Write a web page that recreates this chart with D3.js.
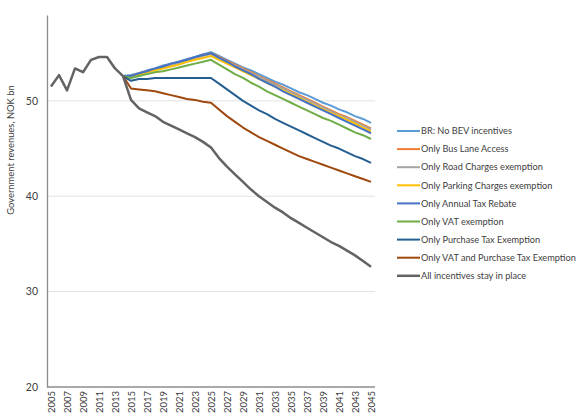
<!DOCTYPE html>
<html>
<head>
<meta charset="utf-8">
<script src="https://cdn.jsdelivr.net/npm/d3@7"></script>
<style>
  body { margin: 0; background: #fff; }
  svg text { font-family: Lato, "Open Sans", sans-serif; fill: #404040; }
</style>
</head>
<body>
<div id="chart"></div>
<script>
// years and values
var years = d3.range(2005, 2046);
var yTicks = [20, 30, 40, 50];
var seriesNames = [
  "BR: No BEV incentives",
  "Only Bus Lane Access",
  "Only Road Charges exemption",
  "Only Parking Charges exemption",
  "Only Annual Tax Rebate",
  "Only VAT exemption",
  "Only Purchase Tax Exemption",
  "Only VAT and Purchase Tax Exemption",
  "All incentives stay in place"
];
var seriesColors = ["#5B9BD5", "#ED7D31", "#A5A5A5", "#FFC000", "#4472C4", "#70AD47", "#255E91", "#9E480E", "#636363"];

// history 2005-2014 (shared by all)
var pastValues = [51.5, 52.7, 51.1, 53.4, 53.0, 54.3, 54.6, 54.6, 53.4, 52.6];

// projections 2014-2045
var brNoIncentives = [52.6, 52.7, 52.9, 53.2, 53.4, 53.7, 53.9, 54.1, 54.4, 54.6, 54.9, 55.1,
  54.7, 54.3, 53.9, 53.5, 53.2, 52.8, 52.4, 52.0, 51.7, 51.3, 50.9, 50.6, 50.2, 49.8, 49.5, 49.1, 48.8, 48.4, 48.1, 47.7];
var busLane = [52.6, 52.6, 52.9, 53.1, 53.3, 53.6, 53.8, 54.0, 54.3, 54.5, 54.8, 55.0,
  54.6, 54.2, 53.8, 53.4, 53.0, 52.6, 52.2, 51.8, 51.4, 51.0, 50.6, 50.2, 49.8, 49.4, 49.0, 48.6, 48.3, 47.9, 47.5, 47.1];
var roadCharges = [52.6, 52.6, 52.8, 53.1, 53.3, 53.5, 53.7, 54.0, 54.2, 54.4, 54.7, 54.9,
  54.5, 54.1, 53.7, 53.3, 52.9, 52.5, 52.1, 51.7, 51.3, 50.9, 50.5, 50.1, 49.7, 49.3, 48.9, 48.5, 48.2, 47.8, 47.4, 47.0];
var parkingCharges = [52.6, 52.5, 52.7, 53.0, 53.2, 53.4, 53.6, 53.8, 54.1, 54.3, 54.5, 54.7,
  54.3, 53.9, 53.5, 53.1, 52.7, 52.3, 51.9, 51.5, 51.1, 50.7, 50.3, 49.9, 49.5, 49.1, 48.7, 48.4, 48.0, 47.6, 47.2, 46.8];
var annualTax = [52.6, 52.6, 52.9, 53.1, 53.4, 53.6, 53.9, 54.1, 54.3, 54.6, 54.8, 55.0,
  54.5, 54.1, 53.6, 53.2, 52.8, 52.3, 51.9, 51.5, 51.0, 50.6, 50.2, 49.8, 49.4, 49.0, 48.6, 48.2, 47.8, 47.4, 47.0, 46.6];
var vatOnly = [52.6, 52.4, 52.6, 52.8, 53.0, 53.1, 53.3, 53.5, 53.7, 53.9, 54.1, 54.3,
  53.8, 53.3, 52.8, 52.4, 51.9, 51.5, 51.0, 50.6, 50.2, 49.8, 49.4, 49.0, 48.6, 48.2, 47.9, 47.5, 47.1, 46.7, 46.4, 46.0];
var purchaseTax = [52.6, 52.1, 52.3, 52.3, 52.4, 52.4, 52.4, 52.4, 52.4, 52.4, 52.4, 52.4,
  51.8, 51.2, 50.6, 50.0, 49.5, 49.0, 48.6, 48.1, 47.7, 47.3, 46.9, 46.5, 46.1, 45.7, 45.3, 45.0, 44.6, 44.2, 43.9, 43.5];
var vatAndPurchase = [52.6, 51.3, 51.2, 51.1, 51.0, 50.8, 50.6, 50.4, 50.2, 50.1, 49.9, 49.8,
  49.1, 48.4, 47.8, 47.2, 46.7, 46.2, 45.8, 45.4, 45.0, 44.6, 44.2, 43.9, 43.6, 43.3, 43.0, 42.7, 42.4, 42.1, 41.8, 41.5];
var allIncentives = [52.6, 50.1, 49.2, 48.8, 48.4, 47.8, 47.4, 47.0, 46.6, 46.2, 45.7, 45.1,
  44.0, 43.1, 42.3, 41.5, 40.7, 40.0, 39.4, 38.8, 38.3, 37.7, 37.2, 36.7, 36.2, 35.7, 35.2, 34.8, 34.3, 33.8, 33.2, 32.6];

var projections = [brNoIncentives, busLane, roadCharges, parkingCharges, annualTax,
  vatOnly, purchaseTax, vatAndPurchase, allIncentives];

var width = 577, height = 415;
var plotLeft = 47, plotRight = 375, plotTop = 15, plotBottom = 387;

var svg = d3.select("#chart").append("svg")
  .attr("width", width)
  .attr("height", height);

var x = d3.scaleLinear().domain([2005, 2045]).range([51, 371]);
var y = d3.scaleLinear().domain([20, 59]).range([plotBottom, plotTop]);

// gridlines
svg.append("g")
  .selectAll("line")
  .data(yTicks.filter(d => d > 20))
  .enter().append("line")
  .attr("x1", plotLeft).attr("x2", plotRight)
  .attr("y1", d => y(d)).attr("y2", d => y(d))
  .attr("stroke", "#E3E3E3")
  .attr("stroke-width", 1);

// y axis
var yAxis = svg.append("g")
  .attr("transform", "translate(" + plotLeft + ",0)")
  .call(d3.axisLeft(y).tickValues(yTicks).tickSize(0).tickPadding(9));
yAxis.select(".domain").attr("stroke", "#8C8C8C").attr("stroke-width", 1.3);
yAxis.selectAll("text").attr("font-size", 10.5).attr("fill", "#595959");

// x axis
var xAxis = svg.append("g")
  .attr("transform", "translate(0," + plotBottom + ")")
  .call(d3.axisBottom(x).tickValues(years.filter(d => (d - 2005) % 2 == 0))
    .tickFormat(d3.format("d")).tickSize(0).tickPadding(0));
xAxis.select(".domain").attr("d", "M" + plotLeft + ",0H" + plotRight)
  .attr("stroke", "#8C8C8C").attr("stroke-width", 1.3);
xAxis.selectAll("text")
  .attr("font-size", 9.5)
  .attr("fill", "#595959")
  .attr("transform", "rotate(-90)")
  .attr("text-anchor", "end")
  .attr("x", -4)
  .attr("y", 0)
  .attr("dy", "0.35em");

// y axis title
svg.append("text")
  .attr("transform", "translate(11,150) rotate(-90)")
  .attr("text-anchor", "middle")
  .attr("dy", "0.35em")
  .attr("font-size", 9.4)
  .attr("fill", "#404040")
  .text("Government revenues, NOK bn");

var line = d3.line()
  .x(d => x(d.year))
  .y(d => y(d.value));

var pastPts = pastValues.map((v, i) => ({ year: 2005 + i, value: v }));

projections.forEach(function(vals, i) {
  var pts = vals.map((v, j) => ({ year: 2014 + j, value: v }));
  svg.append("path")
    .datum(i == projections.length - 1 ? pastPts.concat(pts.slice(1)) : pts)
    .attr("d", line)
    .attr("fill", "none")
    .attr("stroke", seriesColors[i])
    .attr("stroke-width", i == projections.length - 1 ? 2.5 : 2)
    .attr("stroke-linejoin", "round");
});

// legend
var legend = svg.append("g")
  .selectAll("g")
  .data(seriesNames)
  .enter().append("g")
  .attr("transform", (d, i) => "translate(397," + (131 + i * 18.1) + ")");

legend.append("line")
  .attr("x1", 0).attr("x2", 23)
  .attr("stroke", (d, i) => seriesColors[i])
  .attr("stroke-width", (d, i) => i == 8 ? 2.5 : 2);

legend.append("text")
  .attr("x", 24)
  .attr("dy", "0.35em")
  .attr("font-size", 9.2)
  .attr("fill", "#404040")
  .text(d => d);
</script>
</body>
</html>
